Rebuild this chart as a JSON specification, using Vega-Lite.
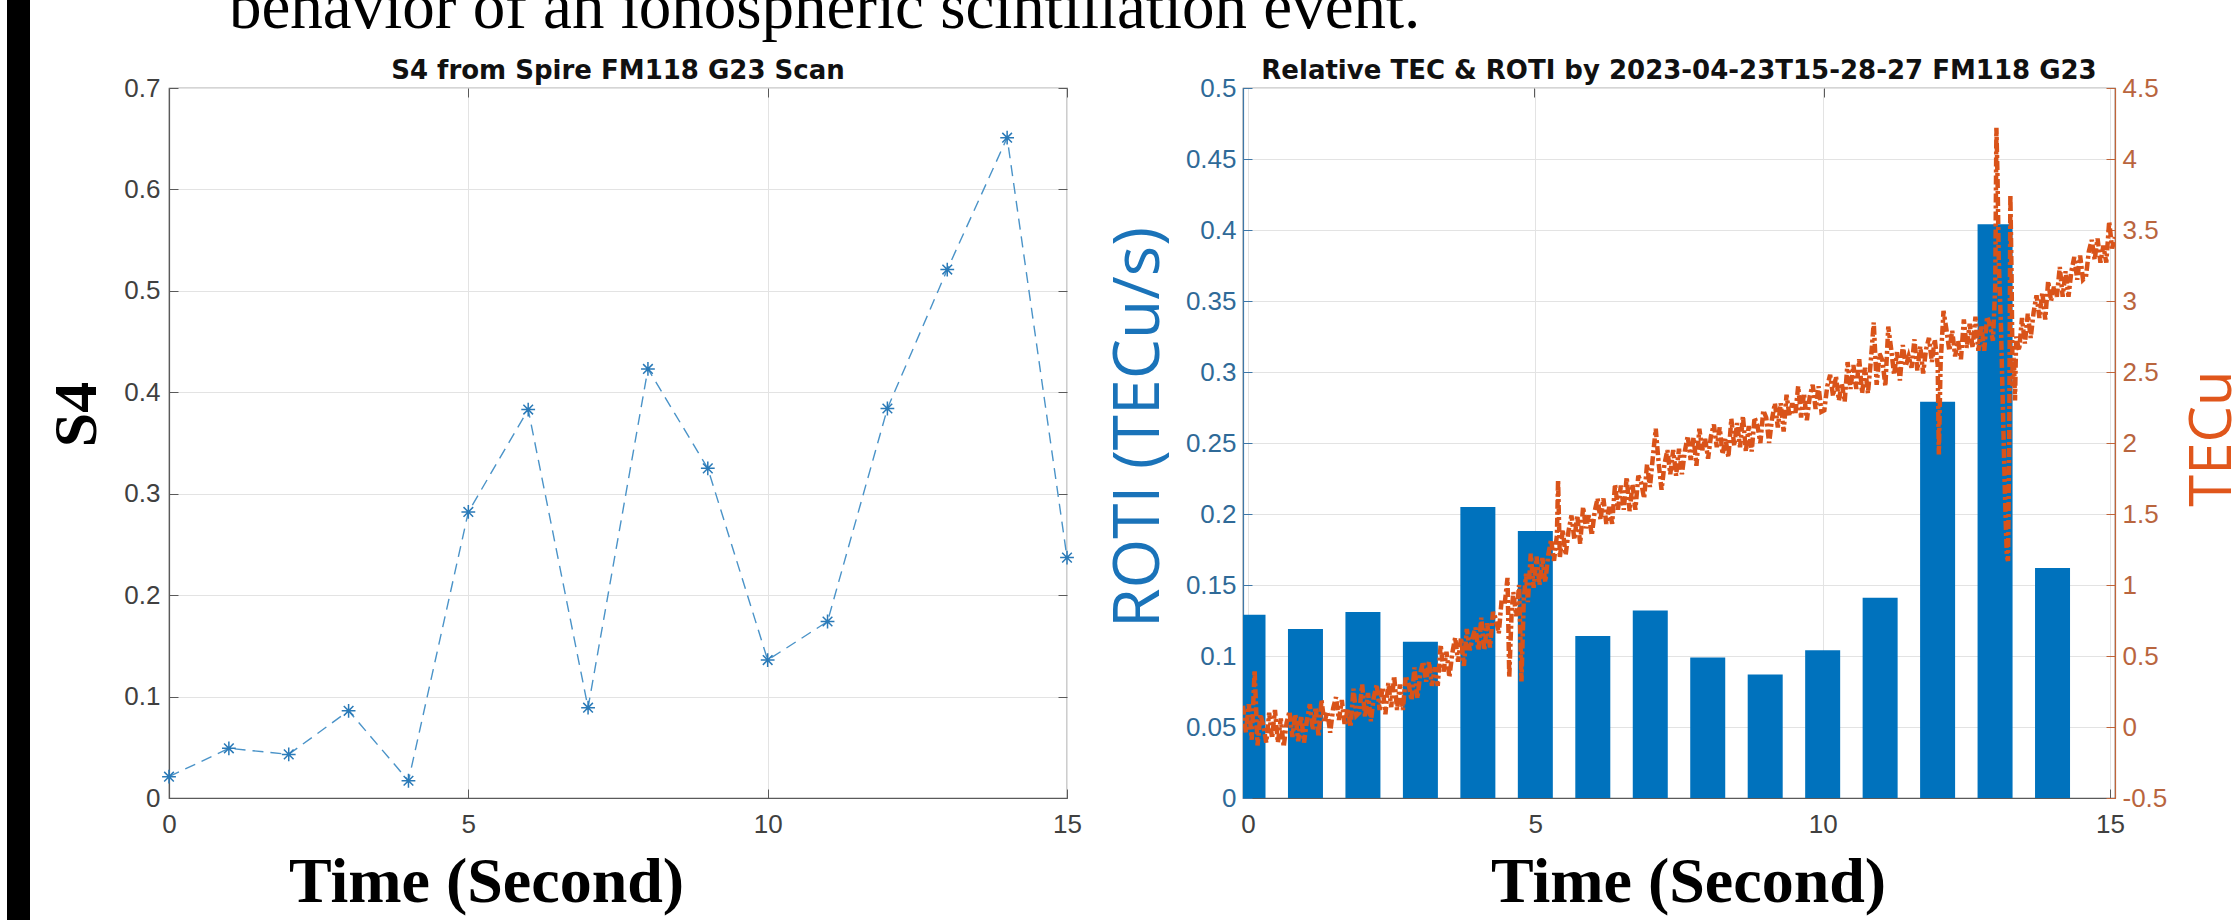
{
  "$schema": "https://vega.github.io/schema/vega-lite/v6.json",
  "background": "white",
  "padding": {"left": 7, "top": -28, "right": -9, "bottom": 0},
  "datasets": {
    "s4": [
      {"t": 0, "s4": 0.021}, {"t": 1, "s4": 0.049}, {"t": 2, "s4": 0.043}, {"t": 3, "s4": 0.086},
      {"t": 4, "s4": 0.017}, {"t": 5, "s4": 0.282}, {"t": 6, "s4": 0.383}, {"t": 7, "s4": 0.089},
      {"t": 8, "s4": 0.423}, {"t": 9, "s4": 0.325}, {"t": 10, "s4": 0.136}, {"t": 11, "s4": 0.174},
      {"t": 12, "s4": 0.384}, {"t": 13, "s4": 0.521}, {"t": 14, "s4": 0.651}, {"t": 15, "s4": 0.237}
    ],
    "roti": [
      {"t": 0, "roti": 0.129}, {"t": 1, "roti": 0.119}, {"t": 2, "roti": 0.131}, {"t": 3, "roti": 0.110},
      {"t": 4, "roti": 0.205}, {"t": 5, "roti": 0.188}, {"t": 6, "roti": 0.114}, {"t": 7, "roti": 0.132},
      {"t": 8, "roti": 0.099}, {"t": 9, "roti": 0.087}, {"t": 10, "roti": 0.104}, {"t": 11, "roti": 0.141},
      {"t": 12, "roti": 0.279}, {"t": 13, "roti": 0.404}, {"t": 14, "roti": 0.162}
    ],
    "tec": [
      {"t":0,"tec":0.15},{"t":0.05,"tec":-0.04},{"t":0.1,"tec":0.16},{"t":0.15,"tec":-0.09},{"t":0.2,"tec":0.40},{"t":0.25,"tec":-0.13},{"t":0.3,"tec":0.09},{"t":0.35,"tec":0.01},{"t":0.4,"tec":-0.11},{"t":0.45,"tec":0.10},
      {"t":0.5,"tec":-0.08},{"t":0.55,"tec":0.12},{"t":0.6,"tec":-0.11},{"t":0.65,"tec":0.06},{"t":0.7,"tec":-0.14},{"t":0.75,"tec":0.03},{"t":0.8,"tec":0.11},{"t":0.85,"tec":-0.07},{"t":0.9,"tec":0.09},{"t":0.95,"tec":-0.10},
      {"t":1.0,"tec":0.08},{"t":1.05,"tec":-0.11},{"t":1.1,"tec":0.05},{"t":1.15,"tec":0.16},{"t":1.2,"tec":-0.02},{"t":1.25,"tec":0.14},{"t":1.3,"tec":-0.07},{"t":1.35,"tec":0.19},{"t":1.4,"tec":0.03},{"t":1.45,"tec":0.11},
      {"t":1.5,"tec":-0.04},{"t":1.55,"tec":0.13},{"t":1.6,"tec":0.21},{"t":1.65,"tec":0.05},{"t":1.7,"tec":0.19},{"t":1.75,"tec":0.01},{"t":1.8,"tec":0.13},{"t":1.85,"tec":0.00},{"t":1.9,"tec":0.27},{"t":1.95,"tec":0.08},
      {"t":2.0,"tec":0.10},{"t":2.05,"tec":0.30},{"t":2.1,"tec":0.07},{"t":2.15,"tec":0.24},{"t":2.2,"tec":0.04},{"t":2.25,"tec":0.21},{"t":2.3,"tec":0.30},{"t":2.35,"tec":0.12},{"t":2.4,"tec":0.28},{"t":2.45,"tec":0.09},
      {"t":2.5,"tec":0.31},{"t":2.55,"tec":0.14},{"t":2.6,"tec":0.36},{"t":2.65,"tec":0.12},{"t":2.7,"tec":0.30},{"t":2.75,"tec":0.12},{"t":2.8,"tec":0.36},{"t":2.85,"tec":0.30},{"t":2.9,"tec":0.19},{"t":2.95,"tec":0.42},
      {"t":3.0,"tec":0.20},{"t":3.05,"tec":0.38},{"t":3.1,"tec":0.46},{"t":3.15,"tec":0.32},{"t":3.2,"tec":0.46},{"t":3.25,"tec":0.29},{"t":3.3,"tec":0.42},{"t":3.35,"tec":0.29},{"t":3.4,"tec":0.58},{"t":3.45,"tec":0.39},
      {"t":3.5,"tec":0.53},{"t":3.55,"tec":0.35},{"t":3.6,"tec":0.52},{"t":3.65,"tec":0.63},{"t":3.7,"tec":0.46},{"t":3.75,"tec":0.63},{"t":3.8,"tec":0.43},{"t":3.85,"tec":0.69},{"t":3.9,"tec":0.54},{"t":3.95,"tec":0.63},
      {"t":4.0,"tec":0.70},{"t":4.05,"tec":0.54},{"t":4.1,"tec":0.77},{"t":4.15,"tec":0.54},{"t":4.2,"tec":0.73},{"t":4.25,"tec":0.56},{"t":4.3,"tec":0.81},{"t":4.35,"tec":0.76},{"t":4.4,"tec":0.66},{"t":4.45,"tec":0.90},
      {"t":4.5,"tec":0.86},{"t":4.55,"tec":1.05},{"t":4.58,"tec":0.35},{"t":4.62,"tec":0.80},{"t":4.65,"tec":0.95},{"t":4.7,"tec":0.78},{"t":4.75,"tec":1.00},{"t":4.79,"tec":0.32},{"t":4.83,"tec":0.90},{"t":4.87,"tec":1.08},{"t":4.9,"tec":0.88},{"t":4.95,"tec":1.22},
      {"t":5.0,"tec":0.98},{"t":5.05,"tec":1.20},{"t":5.1,"tec":1.00},{"t":5.15,"tec":1.19},{"t":5.2,"tec":1.02},{"t":5.25,"tec":1.21},{"t":5.3,"tec":1.32},{"t":5.35,"tec":1.17},{"t":5.4,"tec":1.35},{"t":5.42,"tec":1.74},{"t":5.45,"tec":1.19},
      {"t":5.5,"tec":1.39},{"t":5.55,"tec":1.21},{"t":5.6,"tec":1.38},{"t":5.65,"tec":1.49},{"t":5.7,"tec":1.32},{"t":5.75,"tec":1.49},{"t":5.8,"tec":1.29},{"t":5.85,"tec":1.55},{"t":5.9,"tec":1.40},{"t":5.95,"tec":1.49},
      {"t":6.0,"tec":1.35},{"t":6.05,"tec":1.52},{"t":6.1,"tec":1.61},{"t":6.15,"tec":1.46},{"t":6.2,"tec":1.61},{"t":6.25,"tec":1.43},{"t":6.3,"tec":1.55},{"t":6.35,"tec":1.43},{"t":6.4,"tec":1.71},{"t":6.45,"tec":1.53},
      {"t":6.5,"tec":1.70},{"t":6.55,"tec":1.53},{"t":6.6,"tec":1.76},{"t":6.65,"tec":1.52},{"t":6.7,"tec":1.71},{"t":6.75,"tec":1.53},{"t":6.8,"tec":1.77},{"t":6.85,"tec":1.72},{"t":6.9,"tec":1.61},{"t":6.95,"tec":1.85},
      {"t":7.0,"tec":1.69},{"t":7.05,"tec":1.90},{"t":7.1,"tec":2.10},{"t":7.15,"tec":1.86},{"t":7.2,"tec":1.67},{"t":7.25,"tec":1.85},{"t":7.3,"tec":1.95},{"t":7.35,"tec":1.78},{"t":7.4,"tec":1.95},{"t":7.45,"tec":1.77},
      {"t":7.5,"tec":1.96},{"t":7.55,"tec":1.78},{"t":7.6,"tec":1.94},{"t":7.65,"tec":2.05},{"t":7.7,"tec":1.88},{"t":7.75,"tec":2.04},{"t":7.8,"tec":1.84},{"t":7.85,"tec":2.10},{"t":7.9,"tec":1.95},{"t":7.95,"tec":2.03},
      {"t":8.0,"tec":1.89},{"t":8.05,"tec":2.05},{"t":8.1,"tec":2.13},{"t":8.15,"tec":1.97},{"t":8.2,"tec":2.11},{"t":8.25,"tec":1.92},{"t":8.3,"tec":2.03},{"t":8.35,"tec":1.90},{"t":8.4,"tec":2.17},{"t":8.45,"tec":1.98},
      {"t":8.5,"tec":2.14},{"t":8.55,"tec":1.97},{"t":8.6,"tec":2.19},{"t":8.65,"tec":1.94},{"t":8.7,"tec":2.12},{"t":8.75,"tec":1.94},{"t":8.8,"tec":2.18},{"t":8.85,"tec":2.12},{"t":8.9,"tec":2.00},{"t":8.95,"tec":2.23},
      {"t":9.0,"tec":2.18},{"t":9.05,"tec":2.00},{"t":9.1,"tec":2.17},{"t":9.15,"tec":2.28},{"t":9.2,"tec":2.11},{"t":9.25,"tec":2.28},{"t":9.3,"tec":2.08},{"t":9.35,"tec":2.34},{"t":9.4,"tec":2.19},{"t":9.45,"tec":2.28},
      {"t":9.5,"tec":2.20},{"t":9.55,"tec":2.40},{"t":9.6,"tec":2.18},{"t":9.65,"tec":2.35},{"t":9.7,"tec":2.16},{"t":9.75,"tec":2.33},{"t":9.8,"tec":2.41},{"t":9.85,"tec":2.24},{"t":9.9,"tec":2.40},{"t":9.95,"tec":2.22},
      {"t":10.0,"tec":2.23},{"t":10.05,"tec":2.40},{"t":10.1,"tec":2.48},{"t":10.15,"tec":2.33},{"t":10.2,"tec":2.47},{"t":10.25,"tec":2.30},{"t":10.3,"tec":2.42},{"t":10.35,"tec":2.29},{"t":10.4,"tec":2.57},{"t":10.45,"tec":2.38},
      {"t":10.5,"tec":2.55},{"t":10.55,"tec":2.38},{"t":10.6,"tec":2.59},{"t":10.65,"tec":2.35},{"t":10.7,"tec":2.53},{"t":10.75,"tec":2.35},{"t":10.8,"tec":2.58},{"t":10.85,"tec":2.85},{"t":10.9,"tec":2.41},{"t":10.95,"tec":2.63},
      {"t":11.0,"tec":2.58},{"t":11.05,"tec":2.40},{"t":11.1,"tec":2.82},{"t":11.15,"tec":2.66},{"t":11.2,"tec":2.48},{"t":11.25,"tec":2.64},{"t":11.3,"tec":2.44},{"t":11.35,"tec":2.69},{"t":11.4,"tec":2.54},{"t":11.45,"tec":2.61},
      {"t":11.5,"tec":2.53},{"t":11.55,"tec":2.73},{"t":11.6,"tec":2.51},{"t":11.65,"tec":2.68},{"t":11.7,"tec":2.49},{"t":11.75,"tec":2.66},{"t":11.8,"tec":2.74},{"t":11.85,"tec":2.57},{"t":11.9,"tec":2.73},{"t":11.95,"tec":2.55},{"t":11.97,"tec":1.92},
      {"t":12.0,"tec":2.56},{"t":12.05,"tec":2.93},{"t":12.1,"tec":2.80},{"t":12.15,"tec":2.65},{"t":12.2,"tec":2.79},{"t":12.25,"tec":2.61},{"t":12.3,"tec":2.72},{"t":12.35,"tec":2.59},{"t":12.4,"tec":2.87},{"t":12.45,"tec":2.67},
      {"t":12.5,"tec":2.84},{"t":12.55,"tec":2.67},{"t":12.6,"tec":2.89},{"t":12.65,"tec":2.65},{"t":12.7,"tec":2.83},{"t":12.75,"tec":2.65},{"t":12.8,"tec":2.89},{"t":12.85,"tec":2.83},{"t":12.9,"tec":2.72},
      {"t":12.94,"tec":3.10},{"t":12.96,"tec":4.22},{"t":12.98,"tec":3.85},{"t":13.0,"tec":3.30},{"t":13.02,"tec":3.05},{"t":13.04,"tec":2.80},{"t":13.06,"tec":2.45},{"t":13.08,"tec":2.10},{"t":13.1,"tec":1.75},{"t":13.12,"tec":1.45},{"t":13.14,"tec":1.20},{"t":13.16,"tec":1.17},{"t":13.18,"tec":2.00},{"t":13.2,"tec":3.75},{"t":13.22,"tec":3.20},{"t":13.24,"tec":2.40},{"t":13.26,"tec":2.60},{"t":13.28,"tec":2.30},{"t":13.3,"tec":2.75},
      {"t":13.35,"tec":2.65},{"t":13.4,"tec":2.88},{"t":13.45,"tec":2.70},
      {"t":13.5,"tec":2.91},{"t":13.55,"tec":2.74},{"t":13.6,"tec":2.92},{"t":13.65,"tec":3.04},{"t":13.7,"tec":2.88},{"t":13.75,"tec":3.06},{"t":13.8,"tec":2.87},{"t":13.85,"tec":3.14},{"t":13.9,"tec":3.00},{"t":13.95,"tec":3.10},
      {"t":14.0,"tec":3.03},{"t":14.05,"tec":3.24},{"t":14.1,"tec":3.03},{"t":14.15,"tec":3.21},{"t":14.2,"tec":3.03},{"t":14.25,"tec":3.21},{"t":14.3,"tec":3.31},{"t":14.35,"tec":3.15},{"t":14.4,"tec":3.32},{"t":14.45,"tec":3.15},
      {"t":14.5,"tec":3.17},{"t":14.55,"tec":3.35},{"t":14.6,"tec":3.43},{"t":14.65,"tec":3.29},{"t":14.7,"tec":3.44},{"t":14.75,"tec":3.27},{"t":14.8,"tec":3.39},{"t":14.85,"tec":3.27},{"t":14.9,"tec":3.56},{"t":14.95,"tec":3.37},{"t":15.0,"tec":3.45}
    ]
  },
  "config": {
    "view": {"stroke": "#5a5a5a", "strokeWidth": 1.2},
    "axis": {
      "labelFont": "Liberation Sans", "labelFontSize": 26, "labelColor": "#404040",
      "domainColor": "#5a5a5a", "domainWidth": 1.2, "tickColor": "#5a5a5a", "tickSize": -9,
      "gridColor": "#e3e3e3", "grid": true, "labelFlush": false, "labelOverlap": false
    },
    "title": {"font": "DejaVu Sans", "fontSize": 26, "fontWeight": "bold", "color": "#111111"}
  },
  "spacing": 14,
  "hconcat": [
    {
      "width": 23, "height": 948,
      "view": {"fill": "black", "stroke": null},
      "data": {"values": [{}]},
      "mark": {"type": "point", "opacity": 0, "size": 1},
      "encoding": {}
    },
    {
      "spacing": 16,
      "vconcat": [
        {
          "width": 1, "height": 1,
          "view": {"stroke": null},
          "title": {
            "text": "behavior of an ionospheric scintillation event.",
            "font": "Liberation Serif", "fontSize": 65, "fontWeight": "normal", "color": "#000000",
            "orient": "bottom", "baseline": "top",
            "anchor": "start", "frame": "group", "dx": 60, "offset": 4
          },
          "data": {"values": [{}]},
          "mark": {"type": "point", "opacity": 0, "size": 1},
          "encoding": {}
        },
        {
          "bounds": "flush",
          "spacing": 176,
          "hconcat": [
            {
              "width": 898, "height": 710,
              "title": {"text": "S4 from Spire FM118 G23 Scan", "frame": "group", "anchor": "middle", "offset": -9},
              "data": {"name": "s4"},
              "layer": [
                {
                  "mark": {"type": "line", "color": "#4a93c8", "strokeWidth": 1.4, "strokeDash": [11, 7]},
                  "encoding": {
                    "x": {"field": "t", "type": "quantitative", "scale": {"domain": [0, 15], "nice": false},
                      "axis": {"values": [0, 5, 10, 15], "labelExpr": "'' + datum.value", "labelPadding": 22, "title": "Time (Second)",
                        "titleFont": "Liberation Serif", "titleFontSize": 64, "titleFontWeight": "bold", "titleColor": "#000000",
                        "titleX": 317, "titleY": 103, "titleAlign": "center", "titleBaseline": "alphabetic"}},
                    "y": {"field": "s4", "type": "quantitative", "scale": {"domain": [0, 0.7], "nice": false},
                      "axis": {"values": [0, 0.1, 0.2, 0.3, 0.4, 0.5, 0.6, 0.7], "labelExpr": "'' + datum.value", "labelPadding": 18,
                        "title": "S4", "titleFont": "Liberation Serif", "titleFontSize": 62, "titleFontWeight": "bold", "titleColor": "#000000",
                        "titleAngle": 270, "titleAlign": "center", "titleBaseline": "middle", "titleX": -93, "titleY": 326}}
                  }
                },
                {
                  "mark": {"type": "point", "shape": "M0,-1L0,1M-1,0L1,0M-0.7,-0.7L0.7,0.7M-0.7,0.7L0.7,-0.7", "filled": false, "size": 190, "strokeWidth": 1.5, "color": "#2a7ab8", "opacity": 1},
                  "encoding": {
                    "x": {"field": "t", "type": "quantitative", "scale": {"domain": [0, 15], "nice": false},
                      "axis": {"orient": "top", "values": [0, 5, 10, 15], "labels": false, "title": null, "grid": false, "domain": false}},
                    "y": {"field": "s4", "type": "quantitative", "scale": {"domain": [0, 0.7], "nice": false},
                      "axis": {"orient": "right", "values": [0, 0.1, 0.2, 0.3, 0.4, 0.5, 0.6, 0.7], "labels": false, "title": null, "grid": false, "domain": false}}
                  }
                }
              ],
              "resolve": {"scale": {"x": "independent", "y": "independent"}, "axis": {"x": "independent", "y": "independent"}}
            },
            {
              "width": 872, "height": 710,
              "title": {"text": "Relative TEC & ROTI by 2023-04-23T15-28-27 FM118 G23", "frame": "group", "anchor": "middle", "offset": -9},
              "layer": [
                {
                  "data": {"name": "roti"},
                  "mark": {"type": "bar", "color": "#0072BD", "size": 35, "clip": true},
                  "encoding": {
                    "x": {"field": "t", "type": "quantitative", "scale": {"domain": [0, 15], "nice": false},
                      "axis": {"values": [0, 5, 10, 15], "labelExpr": "'' + datum.value", "labelPadding": 22, "title": "Time (Second)",
                        "titleFont": "Liberation Serif", "titleFontSize": 64, "titleFontWeight": "bold", "titleColor": "#000000",
                        "titleX": 445, "titleY": 103, "titleAlign": "center", "titleBaseline": "alphabetic"}},
                    "y": {"field": "roti", "type": "quantitative", "scale": {"domain": [0, 0.5], "nice": false},
                      "axis": {"orient": "left", "values": [0, 0.05, 0.1, 0.15, 0.2, 0.25, 0.3, 0.35, 0.4, 0.45, 0.5],
                        "labelExpr": "'' + datum.value", "labelPadding": 16, "labelColor": "#2f6a98", "domainColor": "#3f78a8", "tickColor": "#3f78a8",
                        "title": "ROTI (TECu/s)", "titleFont": "Open Sans", "titleFontSize": 64, "titleFontWeight": "normal", "titleColor": "#1a73b9",
                        "titleAngle": 270, "titleAlign": "center", "titleBaseline": "middle", "titleX": -104, "titleY": 339}}
                  }
                },
                {
                  "data": {"name": "tec"},
                  "mark": {"type": "line", "color": "#D95319", "strokeWidth": 4.5, "strokeDash": [9, 3, 3, 3], "clip": true},
                  "encoding": {
                    "x": {"field": "t", "type": "quantitative", "scale": {"domain": [0, 15], "nice": false},
                      "axis": {"orient": "top", "values": [0, 5, 10, 15], "labels": false, "title": null, "grid": false, "domain": false}},
                    "y": {"field": "tec", "type": "quantitative", "scale": {"domain": [-0.5, 4.5], "nice": false},
                      "axis": {"orient": "right", "grid": false, "values": [-0.5, 0, 0.5, 1, 1.5, 2, 2.5, 3, 3.5, 4, 4.5],
                        "labelExpr": "'' + datum.value", "labelPadding": 16, "labelColor": "#b9653e", "domainColor": "#c0653a", "tickColor": "#c0653a",
                        "title": "TECu", "titleFont": "Open Sans", "titleFontSize": 58, "titleFontWeight": "normal", "titleColor": "#e0561b",
                        "titleAngle": 270, "titleAlign": "center", "titleBaseline": "middle", "titleX": 98, "titleY": 350}}
                  }
                }
              ],
              "resolve": {"scale": {"x": "independent", "y": "independent"}, "axis": {"x": "independent", "y": "independent"}}
            }
          ]
        }
      ]
    }
  ]
}
